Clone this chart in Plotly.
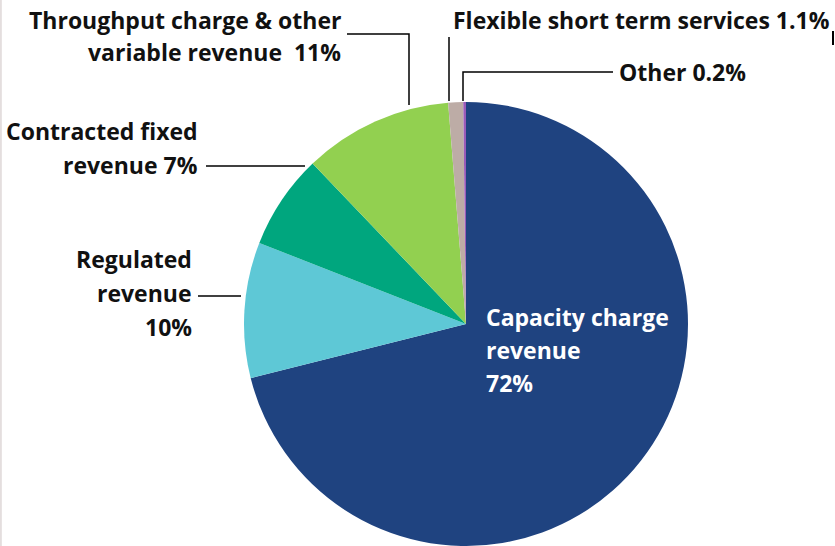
import plotly.graph_objects as go

# ---- data ----
categories = ["Capacity charge revenue", "Regulated revenue", "Contracted fixed revenue",
              "Throughput charge & other variable revenue", "Flexible short term services", "Other"]
values = [72, 10, 7, 11, 1.1, 0.2]
colors = ["#1F4380", "#5EC8D6", "#00A67E", "#92D050", "#BDACA6", "#9A5BB8"]

W, H = 835, 546
FONT = "Open Sans"
FS = 23

fig = go.Figure(go.Pie(
    labels=categories, values=values, sort=False, direction="clockwise", rotation=0,
    marker=dict(colors=colors, line=dict(width=0)),
    textinfo="none", hoverinfo="label+value", showlegend=False,
    domain=dict(x=[244 / W, 688 / W], y=[0, 444 / H]),
))

def px(x): return x / W
def py(y): return 1 - y / H

def label(lines, x, ys, anchor, color="#111111"):
    for t, y in zip(lines, ys):
        fig.add_annotation(text=t, x=px(x), y=py(y), xref="paper", yref="paper",
                           xanchor=anchor, yanchor="middle", showarrow=False,
                           font=dict(family=FONT, size=FS, color=color, weight="bold"))

label(["Throughput charge & other", f"variable revenue  {values[3]:g}%"], 343, [20, 52], "right")
label([f"Flexible short term services {values[4]:g}%"], 451, [20], "left")
label([f"Other {values[5]:g}%"], 617, [72], "left")
label(["Contracted fixed", f"revenue {values[2]:g}%"], 200, [131, 165], "right")
label(["Regulated", "revenue", f"{values[1]:g}%"], 194, [259, 293, 327], "right")
label(["Capacity charge", "revenue", f"{values[0]:g}%"], 484, [317, 350, 383], "left", color="white")

def seg(pts, color="black", width=1.5):
    path = "M " + " L ".join(f"{px(x)} {py(y)}" for x, y in pts)
    fig.add_shape(type="path", path=path, xref="paper", yref="paper",
                  line=dict(color=color, width=width))

seg([(347, 34), (409, 34), (409, 105)])
seg([(449, 37), (449, 101)])
seg([(613, 72), (463, 72), (463, 101)])
seg([(206, 166), (305, 166)])
seg([(198, 296), (241, 296)])
seg([(833, 31), (833, 45)], width=2)
fig.add_shape(type="line", x0=0.001, x1=0.001, y0=0, y1=1, xref="paper", yref="paper",
              line=dict(color="#E4DEDE", width=2))

fig.update_layout(width=W, height=H, margin=dict(l=0, r=0, t=0, b=0),
                  paper_bgcolor="white", plot_bgcolor="white")
fig.write_html("out.html", config={"displayModeBar": False},
               post_script="document.body.style.margin='0';document.body.style.overflow='hidden';")
